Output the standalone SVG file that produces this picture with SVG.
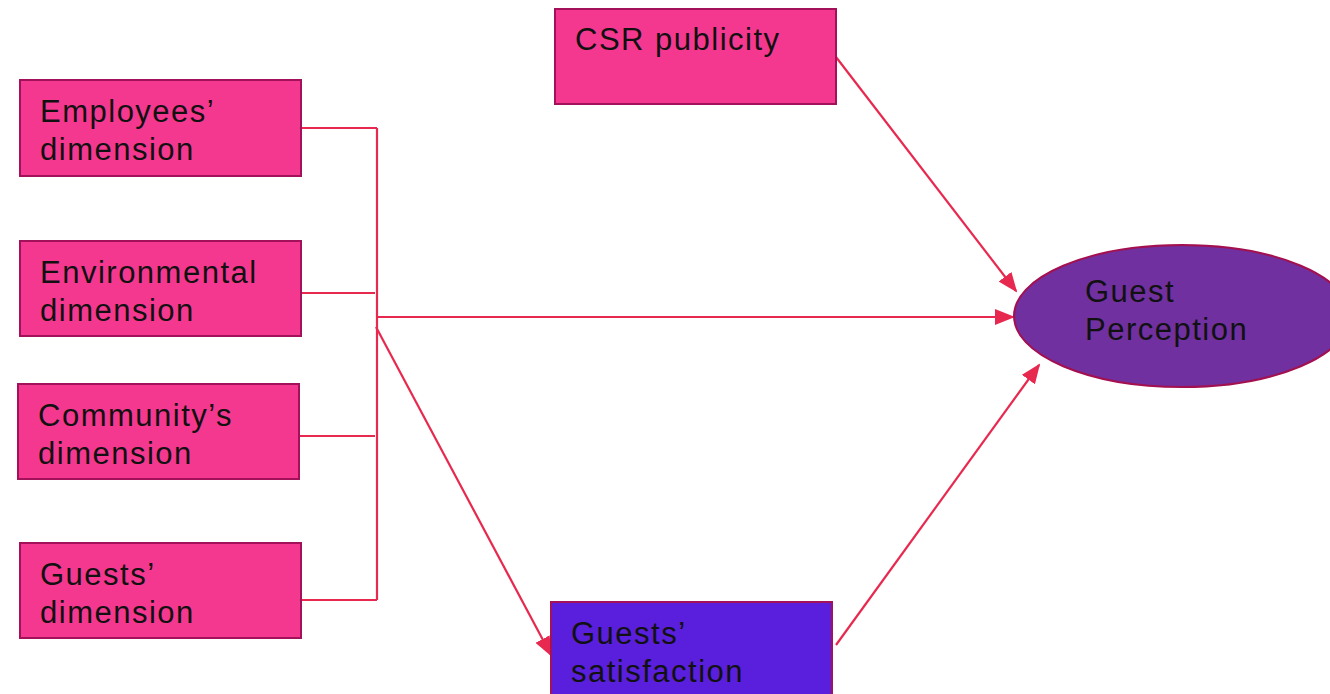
<svg xmlns="http://www.w3.org/2000/svg" width="1330" height="694" viewBox="0 0 1330 694">
<style>
.box{fill:#f5388f;stroke:#a3115a;stroke-width:2}
.sat{fill:#5a1fdc;stroke:#a3115a;stroke-width:2}
.ell{fill:#7030a0;stroke:#a3104f;stroke-width:2}
.t{font-family:"Liberation Sans",Arial,sans-serif;font-size:31px;letter-spacing:1.5px;fill:#111}
.c{stroke:#e8294f;stroke-width:2.2;fill:none}
</style>
<defs>
<marker id="ah" markerWidth="20" markerHeight="16" refX="18" refY="8" orient="auto" markerUnits="userSpaceOnUse">
<path d="M0,0 L20,8 L0,16 Z" fill="#e8294f"/>
</marker>
</defs>
<rect width="1330" height="694" fill="#fff"/>
<g id="connectors">
<path class="c" d="M301,128 H377 M301,293 H375 M300,436 H375 M301,600 H377"/>
<path class="c" d="M377,128 V600"/>
<path class="c" d="M378,317 H1013" marker-end="url(#ah)"/>
<path class="c" d="M376,327 L551,655" marker-end="url(#ah)"/>
<path class="c" d="M836,57 L1016,291" marker-end="url(#ah)"/>
<path class="c" d="M836,645 L1039,365" marker-end="url(#ah)"/>
</g>
<g id="employees">
<rect class="box" x="20" y="80" width="281" height="96"/>
<text class="t" x="40" y="122">Employees’</text>
<text class="t" x="40" y="160">dimension</text>
</g>
<g id="environmental">
<rect class="box" x="20" y="241" width="281" height="95"/>
<text class="t" x="40" y="283">Environmental</text>
<text class="t" x="40" y="321">dimension</text>
</g>
<g id="community">
<rect class="box" x="18" y="384" width="281" height="95"/>
<text class="t" x="38" y="426">Community’s</text>
<text class="t" x="38" y="464">dimension</text>
</g>
<g id="guests">
<rect class="box" x="20" y="543" width="281" height="95"/>
<text class="t" x="40" y="585">Guests’</text>
<text class="t" x="40" y="623">dimension</text>
</g>
<g id="csr">
<rect class="box" x="555" y="9" width="281" height="95"/>
<text class="t" x="575" y="50">CSR publicity</text>
</g>
<g id="satisfaction">
<rect class="sat" x="551" y="602" width="281" height="100"/>
<text class="t" x="571" y="644">Guests’</text>
<text class="t" x="571" y="682">satisfaction</text>
</g>
<g id="perception">
<ellipse class="ell" cx="1182" cy="316" rx="168" ry="71"/>
<text class="t" x="1085" y="302">Guest</text>
<text class="t" x="1085" y="340">Perception</text>
</g>
</svg>
